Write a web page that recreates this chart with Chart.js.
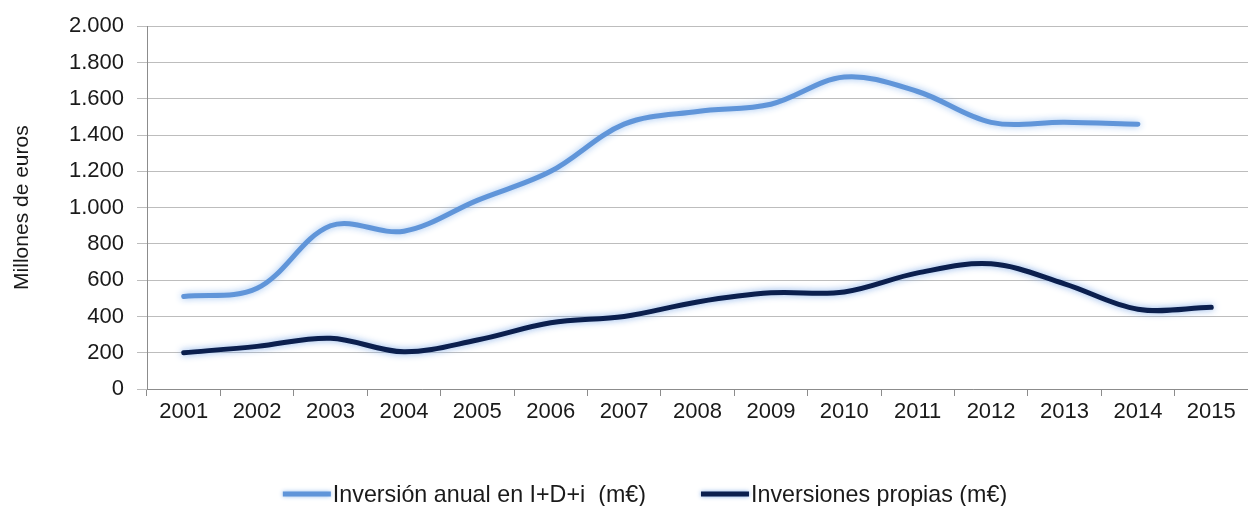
<!DOCTYPE html>
<html>
<head>
<meta charset="utf-8">
<script src="https://cdn.jsdelivr.net/npm/chart.js@4"></script>
<style>
  html, body { margin: 0; padding: 0; background: #fff; }
  #wrap { width: 1248px; height: 506px; }
</style>
</head>
<body>
<div id="wrap"><canvas id="lineChart"></canvas></div>
<script>
// data
const years = ["2001", "2002", "2003", "2004", "2005", "2006", "2007", "2008",
               "2009", "2010", "2011", "2012", "2013", "2014", "2015"];
const inversionAnual = [510, 555, 900, 870, 1040, 1200, 1460, 1530, 1570, 1720, 1640, 1470, 1470, 1460, null];
const inversionesPropias = [200, 235, 280, 205, 270, 365, 400, 480, 530, 535, 640, 690, 580, 440, 450];
const seriesNames = ["Inversión anual en I+D+i  (m€)", "Inversiones propias (m€)"];
const lineColors = ["#6095d9", "#0b1f4e"];
const glowColors = ["rgba(150,190,240,0.95)", "rgba(120,165,230,0.9)"];

const FONT = '"Liberation Sans", Arial, sans-serif';

function dotThousands(v) {
  return String(v).replace(/\B(?=(\d{3})+(?!\d))/g, ".");
}

// soft halo round each line, like the original
const glow = {
  id: "glow",
  beforeDatasetDraw(chart, args) {
    chart.ctx.save();
    chart.ctx.shadowColor = glowColors[args.index];
    chart.ctx.shadowBlur = 7;
  },
  afterDatasetDraw(chart) {
    chart.ctx.restore();
  }
};

// legend drawn by hand: long thick line sample, text right after it
const bottomLegend = {
  id: "bottomLegend",
  afterDraw(chart) {
    const ctx = chart.ctx;
    const squeeze = 0.97;
    const lineLen = 48, gapText = 2, gapItem = 55;
    ctx.save();
    ctx.font = "24px " + FONT;
    const widths = seriesNames.map(t => ctx.measureText(t).width * squeeze);
    const total = widths.reduce((a, w) => a + lineLen + gapText + w, 0) + gapItem;
    let x = chart.width / 2 + 21 - total / 2;
    const y = 494;
    seriesNames.forEach((name, i) => {
      ctx.save();
      ctx.shadowColor = glowColors[i];
      ctx.shadowBlur = 4;
      ctx.strokeStyle = lineColors[i];
      ctx.lineWidth = 5;
      ctx.beginPath();
      ctx.moveTo(x, y);
      ctx.lineTo(x + lineLen, y);
      ctx.stroke();
      ctx.restore();
      x += lineLen + gapText;
      ctx.save();
      ctx.translate(x, y + 1);
      ctx.scale(squeeze, 1);
      ctx.fillStyle = "#1a1a1a";
      ctx.textBaseline = "middle";
      ctx.fillText(name, 0, 0);
      ctx.restore();
      x += widths[i] + gapItem;
    });
    ctx.restore();
  }
};

const ctx = document.getElementById("lineChart").getContext("2d");

const chart = new Chart(ctx, {
  type: "line",
  data: {
    labels: years,
    datasets: [
      {
        label: seriesNames[0],
        data: inversionAnual,
        borderColor: lineColors[0],
        backgroundColor: lineColors[0],
        borderWidth: 5,
        borderCapStyle: "round",
        pointRadius: 0,
        tension: 0.35
      },
      {
        label: seriesNames[1],
        data: inversionesPropias,
        borderColor: lineColors[1],
        backgroundColor: lineColors[1],
        borderWidth: 5,
        borderCapStyle: "round",
        pointRadius: 0,
        tension: 0.35
      }
    ]
  },
  options: {
    responsive: true,
    maintainAspectRatio: false,
    animation: false,
    layout: { padding: { top: 24, right: 0, bottom: 0, left: 0 } },
    scales: {
      x: {
        offset: true,
        grid: {
          offset: true,
          drawOnChartArea: false,
          color: "#8c8c8c",
          tickLength: 7
        },
        border: { color: "#8c8c8c" },
        ticks: {
          color: "#1a1a1a",
          font: { family: FONT, size: 22 },
          padding: 3,
          maxRotation: 0,
          autoSkip: false
        },
        afterFit(scale) { scale.height = 117; }
      },
      y: {
        min: 0,
        max: 2000,
        ticks: {
          stepSize: 200,
          color: "#1a1a1a",
          font: { family: FONT, size: 22 },
          padding: 13,
          callback: v => dotThousands(v)
        },
        grid: { color: "#bdbdbd", tickLength: 10 },
        border: { color: "#8c8c8c" },
        title: {
          display: true,
          text: "Millones de euros",
          color: "#1a1a1a",
          font: { family: FONT, size: 21 },
          padding: { top: 10, bottom: 0 }
        },
        afterFit(scale) { scale.width = 147; }
      }
    },
    plugins: {
      legend: { display: false },
      tooltip: { enabled: false }
    }
  },
  plugins: [glow, bottomLegend]
});
</script>
</body>
</html>
